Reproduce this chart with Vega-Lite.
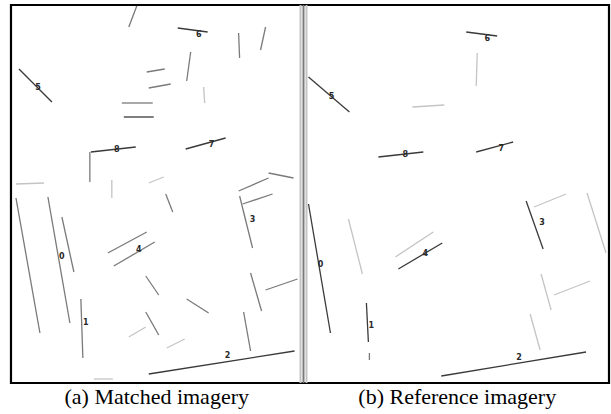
{
  "$schema": "https://vega.github.io/schema/vega-lite/v6.json",
  "width": 611,
  "height": 414,
  "padding": 0,
  "autosize": {"type": "fit", "contains": "padding"},
  "background": "white",
  "config": {"view": {"stroke": null}},
  "datasets": {
    "segs": [
      {"x": 129, "y": 27, "x2": 137, "y2": 6, "tone": "mid"},
      {"x": 178, "y": 28, "x2": 208, "y2": 32, "tone": "dark"},
      {"x": 239, "y": 33, "x2": 240, "y2": 58, "tone": "mid"},
      {"x": 266, "y": 27, "x2": 261, "y2": 50, "tone": "mid"},
      {"x": 147, "y": 72, "x2": 165, "y2": 69, "tone": "mid"},
      {"x": 149, "y": 88, "x2": 171, "y2": 84, "tone": "mid"},
      {"x": 191, "y": 52, "x2": 187, "y2": 81, "tone": "mid"},
      {"x": 204, "y": 87, "x2": 205, "y2": 103, "tone": "light"},
      {"x": 19, "y": 69, "x2": 52, "y2": 102, "tone": "dark"},
      {"x": 122, "y": 103, "x2": 153, "y2": 103, "tone": "mid"},
      {"x": 124, "y": 117, "x2": 154, "y2": 117, "tone": "dark"},
      {"x": 91, "y": 152, "x2": 136, "y2": 147, "tone": "dark"},
      {"x": 90, "y": 152, "x2": 90, "y2": 182, "tone": "mid"},
      {"x": 186, "y": 149, "x2": 226, "y2": 138, "tone": "dark"},
      {"x": 16, "y": 184, "x2": 44, "y2": 183, "tone": "light"},
      {"x": 112, "y": 180, "x2": 112, "y2": 198, "tone": "light"},
      {"x": 149, "y": 183, "x2": 164, "y2": 177, "tone": "light"},
      {"x": 239, "y": 191, "x2": 269, "y2": 178, "tone": "mid"},
      {"x": 269, "y": 173, "x2": 294, "y2": 178, "tone": "mid"},
      {"x": 243, "y": 204, "x2": 273, "y2": 194, "tone": "mid"},
      {"x": 240, "y": 196, "x2": 253, "y2": 248, "tone": "mid"},
      {"x": 16, "y": 198, "x2": 40, "y2": 333, "tone": "mid"},
      {"x": 48, "y": 197, "x2": 70, "y2": 323, "tone": "mid"},
      {"x": 62, "y": 217, "x2": 74, "y2": 272, "tone": "mid"},
      {"x": 81, "y": 299, "x2": 83, "y2": 358, "tone": "mid"},
      {"x": 108, "y": 253, "x2": 147, "y2": 232, "tone": "mid"},
      {"x": 114, "y": 266, "x2": 155, "y2": 242, "tone": "mid"},
      {"x": 166, "y": 194, "x2": 173, "y2": 212, "tone": "mid"},
      {"x": 146, "y": 276, "x2": 159, "y2": 295, "tone": "mid"},
      {"x": 187, "y": 299, "x2": 209, "y2": 313, "tone": "mid"},
      {"x": 146, "y": 312, "x2": 159, "y2": 335, "tone": "mid"},
      {"x": 129, "y": 337, "x2": 146, "y2": 327, "tone": "light"},
      {"x": 167, "y": 348, "x2": 185, "y2": 339, "tone": "light"},
      {"x": 251, "y": 273, "x2": 262, "y2": 311, "tone": "mid"},
      {"x": 266, "y": 290, "x2": 298, "y2": 279, "tone": "mid"},
      {"x": 244, "y": 312, "x2": 251, "y2": 351, "tone": "mid"},
      {"x": 149, "y": 374, "x2": 295, "y2": 351, "tone": "dark"},
      {"x": 94, "y": 379, "x2": 113, "y2": 379, "tone": "light"},
      {"x": 467, "y": 32, "x2": 498, "y2": 36, "tone": "dark"},
      {"x": 478, "y": 53, "x2": 477, "y2": 86, "tone": "light"},
      {"x": 309, "y": 77, "x2": 350, "y2": 112, "tone": "dark"},
      {"x": 413, "y": 107, "x2": 445, "y2": 105, "tone": "light"},
      {"x": 379, "y": 157, "x2": 424, "y2": 152, "tone": "dark"},
      {"x": 477, "y": 152, "x2": 514, "y2": 142, "tone": "dark"},
      {"x": 309, "y": 204, "x2": 331, "y2": 333, "tone": "dark"},
      {"x": 349, "y": 219, "x2": 363, "y2": 274, "tone": "light"},
      {"x": 367, "y": 303, "x2": 369, "y2": 342, "tone": "dark"},
      {"x": 370, "y": 353, "x2": 370, "y2": 360, "tone": "mid"},
      {"x": 396, "y": 257, "x2": 434, "y2": 232, "tone": "light"},
      {"x": 399, "y": 269, "x2": 443, "y2": 243, "tone": "dark"},
      {"x": 527, "y": 201, "x2": 544, "y2": 249, "tone": "dark"},
      {"x": 535, "y": 207, "x2": 567, "y2": 194, "tone": "light"},
      {"x": 588, "y": 193, "x2": 607, "y2": 253, "tone": "light"},
      {"x": 542, "y": 274, "x2": 552, "y2": 310, "tone": "light"},
      {"x": 555, "y": 295, "x2": 591, "y2": 281, "tone": "light"},
      {"x": 531, "y": 314, "x2": 541, "y2": 350, "tone": "light"},
      {"x": 442, "y": 376, "x2": 587, "y2": 352, "tone": "dark"}
    ],
    "labels": [
      {"x": 199, "y": 35, "t": "6"},
      {"x": 38, "y": 88, "t": "5"},
      {"x": 117, "y": 150, "t": "8"},
      {"x": 212, "y": 145, "t": "7"},
      {"x": 253, "y": 220, "t": "3"},
      {"x": 62, "y": 257, "t": "0"},
      {"x": 86, "y": 323, "t": "1"},
      {"x": 139, "y": 250, "t": "4"},
      {"x": 228, "y": 356, "t": "2"},
      {"x": 488, "y": 39, "t": "6"},
      {"x": 332, "y": 97, "t": "5"},
      {"x": 406, "y": 155, "t": "8"},
      {"x": 502, "y": 149, "t": "7"},
      {"x": 321, "y": 265, "t": "0"},
      {"x": 372, "y": 326, "t": "1"},
      {"x": 426, "y": 254, "t": "4"},
      {"x": 543, "y": 223, "t": "3"},
      {"x": 520, "y": 358, "t": "2"}
    ],
    "frame": [{"x": 11, "y": 5, "x2": 610, "y2": 383}],
    "divider": [
      {"x": 301, "y": 5, "y2": 383, "tone": "light"},
      {"x": 304, "y": 5, "y2": 383, "tone": "mid"},
      {"x": 307, "y": 5, "y2": 383, "tone": "light"}
    ],
    "captions": [
      {"x": 157, "y": 397, "t": "(a) Matched imagery"},
      {"x": 458, "y": 397, "t": "(b) Reference imagery"}
    ]
  },
  "layer": [
    {
      "data": {"name": "frame"},
      "mark": {"type": "rect", "fill": null, "fillOpacity": 0, "stroke": "#000", "strokeWidth": 2.2},
      "encoding": {
        "x": {"field": "x", "type": "quantitative", "scale": {"domain": [0, 611], "nice": false, "zero": false}, "axis": null},
        "y": {"field": "y", "type": "quantitative", "scale": {"domain": [0, 414], "nice": false, "zero": false, "reverse": true}, "axis": null},
        "x2": {"field": "x2"},
        "y2": {"field": "y2"}
      }
    },
    {
      "data": {"name": "divider"},
      "mark": {"type": "rule", "strokeWidth": 2},
      "encoding": {
        "x": {"field": "x", "type": "quantitative"},
        "y": {"field": "y", "type": "quantitative"},
        "y2": {"field": "y2"},
        "color": {"field": "tone", "type": "nominal", "scale": {"domain": ["dark", "mid", "light"], "range": ["#3a3a3a", "#7a7a7a", "#c4c4c4"]}, "legend": null}
      }
    },
    {
      "data": {"name": "segs"},
      "mark": {"type": "rule", "strokeWidth": 1.3},
      "encoding": {
        "x": {"field": "x", "type": "quantitative"},
        "y": {"field": "y", "type": "quantitative"},
        "x2": {"field": "x2"},
        "y2": {"field": "y2"},
        "color": {"field": "tone", "type": "nominal", "legend": null}
      }
    },
    {
      "data": {"name": "labels"},
      "mark": {"type": "text", "font": "DejaVu Sans", "fontSize": 8, "fontWeight": "bold", "fill": "#2a2a2a", "baseline": "middle", "align": "center"},
      "encoding": {
        "x": {"field": "x", "type": "quantitative"},
        "y": {"field": "y", "type": "quantitative"},
        "text": {"field": "t"}
      }
    },
    {
      "data": {"name": "captions"},
      "mark": {"type": "text", "font": "Liberation Serif", "fontSize": 22, "fill": "#000", "baseline": "middle", "align": "center"},
      "encoding": {
        "x": {"field": "x", "type": "quantitative"},
        "y": {"field": "y", "type": "quantitative"},
        "text": {"field": "t"}
      }
    }
  ]
}
